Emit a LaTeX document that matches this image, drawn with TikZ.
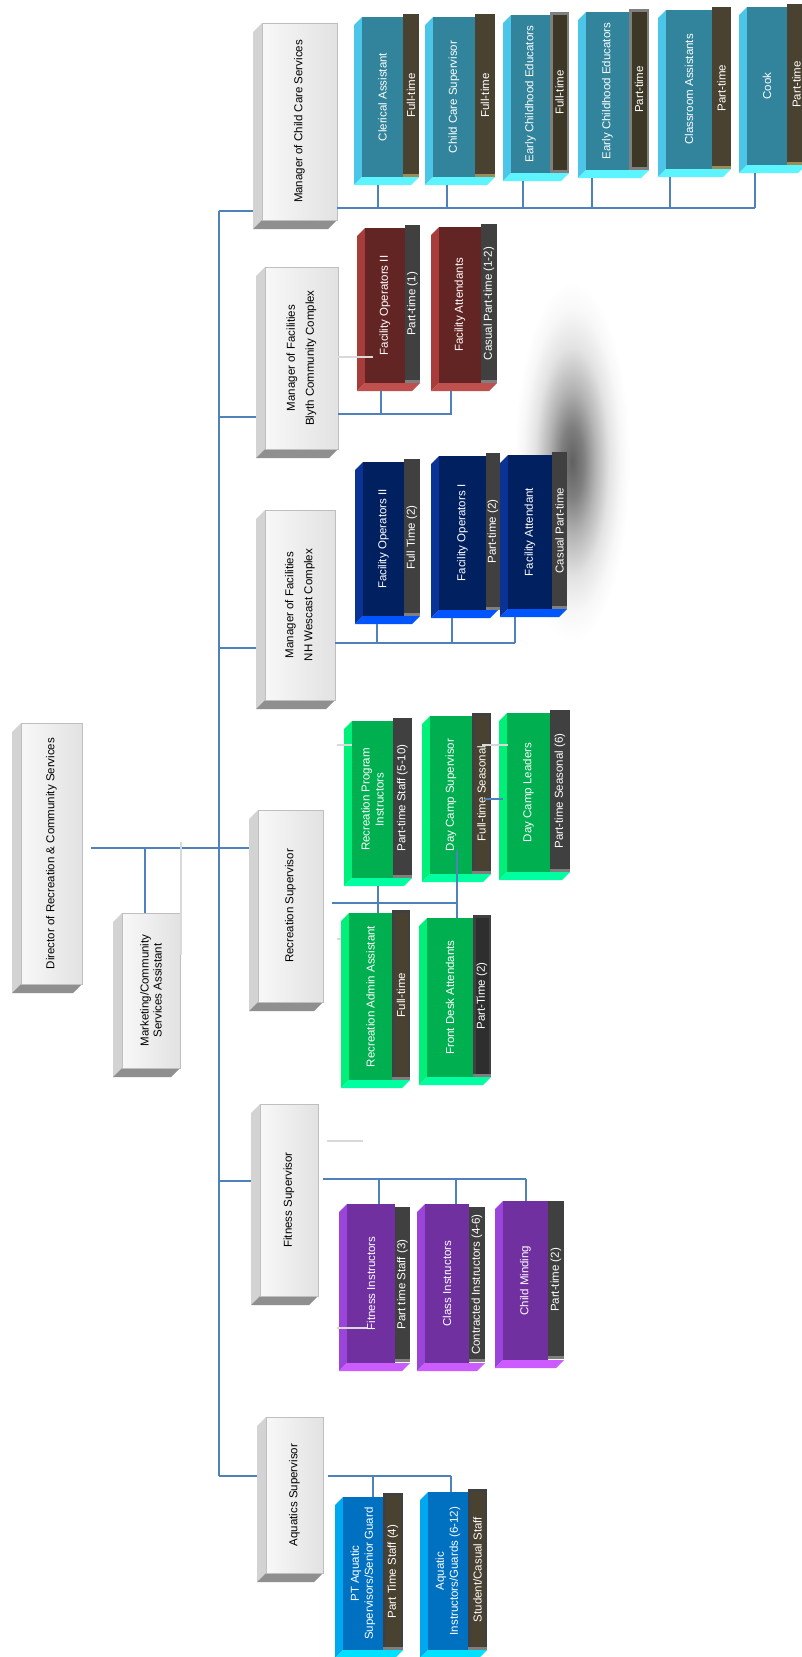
\documentclass[tikz,border=0pt]{standalone}
\usepackage{fontspec}
\setmainfont{Liberation Sans}
\usetikzlibrary{calc}
\pgfdeclareradialshading{shadowblur}{\pgfpoint{0bp}{0bp}}{color(0bp)=(black!62); color(5bp)=(black!50); color(10bp)=(black!30); color(16bp)=(black!11); color(21bp)=(black!3); color(25bp)=(white); color(50bp)=(white)}
\definecolor{connC}{HTML}{4F81BD}
\definecolor{ghostC}{HTML}{D9D9D9}
\definecolor{mgrA}{HTML}{F8F8F8}
\definecolor{mgrB}{HTML}{E2E2E2}
\definecolor{mgrL}{HTML}{D3D3D3}
\definecolor{mgrD}{HTML}{8F8F8F}
\definecolor{mgrLine}{HTML}{BFBFBF}
\definecolor{ccF}{HTML}{31849B}\definecolor{ccL}{HTML}{4BC6E8}\definecolor{ccD}{HTML}{5CF5FF}
\definecolor{blF}{HTML}{632523}\definecolor{blL}{HTML}{A83C3A}\definecolor{blD}{HTML}{C0504D}
\definecolor{wcF}{HTML}{002060}\definecolor{wcL}{HTML}{0B3396}\definecolor{wcD}{HTML}{0055FF}
\definecolor{rcF}{HTML}{00B050}\definecolor{rcL}{HTML}{00F07A}\definecolor{rcD}{HTML}{00FFA0}
\definecolor{ftF}{HTML}{7030A0}\definecolor{ftL}{HTML}{9A44DA}\definecolor{ftD}{HTML}{CC5CFF}
\definecolor{aqF}{HTML}{0070C0}\definecolor{aqL}{HTML}{00A8F0}\definecolor{aqD}{HTML}{00E0FF}
\definecolor{olive}{HTML}{4A4230}
\definecolor{oliveD}{HTML}{3D3826}
\definecolor{tan}{HTML}{9C8C55}
\definecolor{dgray}{HTML}{404040}
\definecolor{mgray}{HTML}{7F7F7F}
\definecolor{xgray}{HTML}{2E2E2E}
\tikzset{
  conn/.style={draw=connC, line width=1.8pt},
  ghost/.style={draw=ghostC, line width=1.8pt},
  fitbox/.style={inner sep=0pt, outer sep=0pt, draw=none},
  mgrtext/.style={rotate=90, align=center, font=\fontsize{11.5}{19}\selectfont, text=black},
  kidtext/.style={rotate=90, align=center, font=\fontsize{11.5}{14}\selectfont, text=white},
  striptext/.style={rotate=90, align=center, font=\fontsize{11.5}{13}\selectfont, text=white},
  ccleft/.style={fill=ccL}, ccbot/.style={fill=ccD}, ccfront/.style={fill=ccF},
  blleft/.style={fill=blL}, blbot/.style={fill=blD}, blfront/.style={fill=blF},
  wcleft/.style={fill=wcL}, wcbot/.style={fill=wcD}, wcfront/.style={fill=wcF},
  rcleft/.style={fill=rcL}, rcbot/.style={fill=rcD}, rcfront/.style={fill=rcF},
  ftleft/.style={fill=ftL}, ftbot/.style={fill=ftD}, ftfront/.style={fill=ftF},
  aqleft/.style={fill=aqL}, aqbot/.style={fill=aqD}, aqfront/.style={fill=aqF},
  oliveframe/.style={fill=olive}, olivebot/.style={fill=tan}, oliveinner/.style={fill=olive},
  darkframe/.style={fill=dgray}, darkbot/.style={fill=mgray}, darkinner/.style={fill=dgray},
  gframeframe/.style={fill=mgray}, gframebot/.style={fill=mgray}, gframeinner/.style={fill=oliveD},
  dframeframe/.style={fill=dgray}, dframebot/.style={fill=mgray}, dframeinner/.style={fill=olive},
  kframeframe/.style={fill=dgray}, kframebot/.style={fill=mgray}, kframeinner/.style={fill=xgray},
}
% manager box: name, x1, y1, x2, y2, text, extra text style
\newcommand{\mgrbox}[7]{%
  \fill[mgrL] ({#2-9},{#3+9}) -- (#2,#3) -- (#2,#5) -- ({#2-9},{#5+9}) -- cycle;
  \fill[mgrD] ({#2-9},{#5+9}) -- (#2,#5) -- (#4,#5) -- ({#4-9},{#5+9}) -- cycle;
  \shadedraw[left color=mgrA, right color=mgrB, draw=mgrLine, line width=0.6pt] (#2,#3) rectangle (#4,#5);
  \node[fitbox, minimum width={#4-#2}, minimum height={#5-#3}, anchor=north west] (#1) at (#2,#3) {};
  \node[mgrtext,#7] (#1-t) at (#1.center) {#6};
  \coordinate (#1-l) at ({#2-9},#3);
}
% child box: name, x1, y1, xs, xe, y2, group, text
\newcommand{\kidbox}[8]{%
  \fill[#7left] ({#2-8},{#3+8}) -- (#2,#3) -- (#2,#6) -- ({#2-8},{#6+8}) -- cycle;
  \fill[#7bot] ({#2-8},{#6+8}) -- (#2,#6) -- (#5,#6) -- ({#5-8},{#6+8}) -- cycle;
  \fill[#7front] (#2,#3) rectangle (#4,#6);
  \node[fitbox, minimum width={#4-#2}, minimum height={#6-#3}, anchor=north west] (#1) at (#2,#3) {};
  \node[kidtext] (#1-t) at (#1.center) {#8};
  \coordinate (#1-b) at (#2,{#6+8});
  \coordinate (#1-top) at (#2,#3);
}
% strip: name, xs, y1, xe, y2, kind, text
\newcommand{\kidstrip}[7]{%
  \fill[#6frame] (#2,{#3-3}) rectangle (#4,#5);
  \fill[#6bot] (#2,{#5-3}) rectangle (#4,#5);
  \fill[#6inner] ({#2+2.5},{#3-0.5}) rectangle ({#4-2.5},{#5-3.5});
  \node[fitbox, minimum width={#4-#2}, minimum height={#5-#3+3}, anchor=north west] (#1) at (#2,{#3-3}) {};
  \node[striptext] (#1-t) at (#1.center) {#7};
}
\begin{document}
\begin{tikzpicture}[x=1pt,y=-1pt]
\path[use as bounding box] (0,0) rectangle (802,1657);
\clip (0,0) rectangle (802,1657);
\fill[white] (0,0) rectangle (802,1657);
\shade[shading=shadowblur] (572,462) ellipse [x radius=58, y radius=180];

% ---- managers ----
\mgrbox{ccm}{262}{23}{337}{220}{Manager of Child Care Services}{}
\mgrbox{bly}{265}{267}{338}{449}{Manager of Facilities\\Blyth Community Complex}{}
\mgrbox{wes}{265}{510}{335}{700}{Manager of Facilities\\NH Wescast Complex}{}
\mgrbox{rec}{258}{810}{323}{1002}{Recreation Supervisor}{}
\mgrbox{fit}{260}{1104}{318}{1296}{Fitness Supervisor}{}
\mgrbox{aqu}{266}{1417}{323}{1573}{Aquatics Supervisor}{}
\mgrbox{dir}{21}{723}{82}{984}{Director of Recreation \& Community Services}{}
\mgrbox{mkt}{122}{913}{180}{1068}{Marketing/Community\\Services Assistant}{font=\fontsize{11.5}{13}\selectfont}

% ---- child care ----
\kidbox{cc1}{362}{17}{403}{419}{177}{cc}{Clerical Assistant}
\kidstrip{cc1s}{403}{17}{419}{177}{olive}{Full-time}
\kidbox{cc2}{433}{17}{475}{495}{177}{cc}{Child Care Supervisor}
\kidstrip{cc2s}{475}{17}{495}{177}{olive}{Full-time}
\kidbox{cc3}{511}{15}{550}{569}{173}{cc}{Early Childhood Educators}
\kidstrip{cc3s}{550}{15}{569}{173}{gframe}{Full-time}
\kidbox{cc4}{586}{12}{629}{649}{170}{cc}{Early Childhood Educators}
\kidstrip{cc4s}{629}{12}{649}{170}{gframe}{Part-time}
\kidbox{cc5}{666}{10}{712}{731}{169}{cc}{Classroom Assistants}
\kidstrip{cc5s}{712}{10}{731}{169}{olive}{Part-time}
\kidbox{cc6}{747}{7}{787}{806}{165}{cc}{Cook}
\kidstrip{cc6s}{787}{7}{806}{165}{olive}{Part-time}

% ---- blyth ----
\kidbox{bl1}{365}{228}{405}{420}{383}{bl}{Facility Operators II}
\kidstrip{bl1s}{405}{228}{420}{383}{dark}{Part-time (1)}
\kidbox{bl2}{439}{227}{481}{497}{383}{bl}{Facility Attendants}
\kidstrip{bl2s}{481}{227}{497}{383}{dark}{Casual Part-time (1-2)}

% ---- wescast ----
\kidbox{wc1}{363}{462}{404}{420}{616}{wc}{Facility Operators II}
\kidstrip{wc1s}{404}{462}{420}{616}{dark}{Full Time (2)}
\kidbox{wc2}{439}{456}{486}{498}{610}{wc}{Facility Operators I}
\kidstrip{wc2s}{486}{456}{500}{610}{dark}{Part-time (2)}
\kidbox{wc3}{508}{455}{552}{567}{609}{wc}{Facility Attendant}
\kidstrip{wc3s}{552}{455}{567}{609}{dark}{Casual Part-time}

% ---- recreation ----
\kidbox{rc1}{352}{721}{393}{412}{878}{rc}{Recreation Program\\Instructors}
\kidstrip{rc1s}{393}{721}{412}{878}{dark}{Part-time Staff (5-10)}
\kidbox{rc2}{430}{716}{472}{491}{874}{rc}{Day Camp Supervisor}
\kidstrip{rc2s}{472}{716}{491}{874}{dframe}{Full-time Seasonal}
\kidbox{rc3}{507}{713}{550}{570}{872}{rc}{Day Camp Leaders}
\kidstrip{rc3s}{550}{713}{570}{872}{dark}{Part-time Seasonal (6)}
\kidbox{rc4}{349}{913}{392}{410}{1080}{rc}{Recreation Admin Assistant}
\kidstrip{rc4s}{392}{913}{410}{1080}{dframe}{Full-time}
\kidbox{rc5}{427}{918}{473}{491}{1077}{rc}{Front Desk Attendants}
\kidstrip{rc5s}{473}{918}{491}{1077}{kframe}{Part-Time (2)}

% ---- fitness ----
\kidbox{ft1}{347}{1204}{395}{410}{1363}{ft}{Fitness Instructors}
\kidstrip{ft1s}{395}{1210}{410}{1362}{dark}{Part time Staff (3)}
\kidbox{ft2}{425}{1204}{469}{485}{1363}{ft}{Class Instructors}
\kidstrip{ft2s}{469}{1210}{485}{1362}{dark}{Contracted Instructors (4-6)}
\kidbox{ft3}{503}{1201}{548}{564}{1360}{ft}{Child Minding}
\kidstrip{ft3s}{548}{1204}{564}{1359}{dark}{Part-time (2)}

% ---- aquatics ----
\kidbox{aq1}{343}{1497}{383}{403}{1650}{aq}{PT Aquatic\\Supervisors/Senior Guard}
\kidstrip{aq1s}{383}{1496}{403}{1650}{dframe}{Part Time Staff (4)}
\kidbox{aq2}{428}{1492}{468}{487}{1650}{aq}{Aquatic\\Instructors/Guards (6-12)}
\kidstrip{aq2s}{468}{1492}{487}{1650}{dframe}{Student/Casual Staff}

% ---- trunk and top-level connectors ----
\coordinate (tTop) at (219,211);
\coordinate (tB) at (219,417);
\coordinate (tW) at (219,648);
\coordinate (tF) at (219,1181);
\coordinate (tBot) at (219,1476);
\draw[conn] (tTop) -- (tBot);
\draw[conn] (tTop) -- (tTop -| ccm-l);
\draw[conn] (tB) -- (tB -| bly-l);
\draw[conn] (tW) -- (tW -| wes-l);
\draw[conn] (tF) -- (tF -| fit-l);
\draw[conn] (tBot) -- (tBot -| aqu-l);
\coordinate (dA) at (91,848);
\coordinate (mA) at (145,848);
\draw[conn] (dA) -- (dA -| rec-l);
\draw[conn] (mA) -- (mA |- mkt.north);

% ---- child care bus ----
\coordinate (ccbus) at (755,208);
\draw[conn] (ccbus -| ccm.east) -- (ccbus);
\path (378,208) coordinate (ccj1) (447,208) coordinate (ccj2) (523,208) coordinate (ccj3)
      (592,208) coordinate (ccj4) (670,208) coordinate (ccj5) (755,208) coordinate (ccj6);
\draw[conn] (ccj1 |- cc1-b) -- (ccj1);
\draw[conn] (ccj2 |- cc2-b) -- (ccj2);
\draw[conn] (ccj3 |- cc3-b) -- (ccj3);
\draw[conn] (ccj4 |- cc4-b) -- (ccj4);
\draw[conn] (ccj5 |- cc5-b) -- (ccj5);
\draw[conn] (ccj6 |- cc6-b) -- (ccj6);

% ---- blyth bus ----
\coordinate (blbus) at (452,414);
\draw[conn] (blbus -| bly.east) -- (blbus);
\path (381,414) coordinate (blj1) (451,414) coordinate (blj2);
\draw[conn] (blj1 |- bl1-b) -- (blj1);
\draw[conn] (blj2 |- bl2-b) -- (blj2);

% ---- wescast bus ----
\coordinate (wcbus) at (515,643);
\draw[conn] (wcbus -| wes.east) -- (wcbus);
\path (377,643) coordinate (wcj1) (452,643) coordinate (wcj2) (515,643) coordinate (wcj3);
\draw[conn] (wcj1 |- wc1-b) -- (wcj1);
\draw[conn] (wcj2 |- wc2-b) -- (wcj2);
\draw[conn] (wcj3 |- wc3-b) -- (wcj3);

% ---- recreation bus ----
\coordinate (rcb0) at (332,903);
\coordinate (rcbus) at (457,903);
\draw[conn] (rcb0) -- (rcbus);
\coordinate (rcj1) at (378,903);
\draw[conn] (rcj1 |- rc1-b) -- (rcj1 |- rc4-top);
\coordinate (rcj2) at (457,850);
\draw[conn] (rcj2) -- (rcj2 |- rc5-top);
\coordinate (rcl1) at (485,799);
\coordinate (rcl2) at (503,799);
\draw[conn] (rcl1) -- (rcl2);

% ---- fitness bus ----
\coordinate (ftbus) at (526,1179);
\coordinate (ftb0) at (323,1179);
\draw[conn] (ftb0) -- (ftbus);
\path (379,1179) coordinate (ftj1) (456,1179) coordinate (ftj2) (526,1179) coordinate (ftj3);
\draw[conn] (ftj1) -- (ftj1 |- ft1-top);
\draw[conn] (ftj2) -- (ftj2 |- ft2-top);
\draw[conn] (ftj3) -- (ftj3 |- ft3-top);

% ---- aquatics bus ----
\coordinate (aqb0) at (328,1476);
\coordinate (aqbus) at (451,1476);
\draw[conn] (aqb0) -- (aqbus);
\path (373,1476) coordinate (aqj1) (451,1476) coordinate (aqj2);
\draw[conn] (aqj1) -- (aqj1 |- aq1-top);
\draw[conn] (aqj2) -- (aqj2 |- aq2-top);

% ---- faint grey strokes ----
\draw[ghost] (181,842) -- (181,955);
\draw[ghost] (338,357) -- (373,357);
\draw[ghost] (337,745) -- (352,745);
\draw[ghost] (482,745) -- (508,745);
\draw[ghost] (337,939) -- (341,939);
\draw[ghost] (327,1141) -- (363,1141);
\draw[ghost] (337,1328) -- (367,1328);
\end{tikzpicture}
\end{document}
